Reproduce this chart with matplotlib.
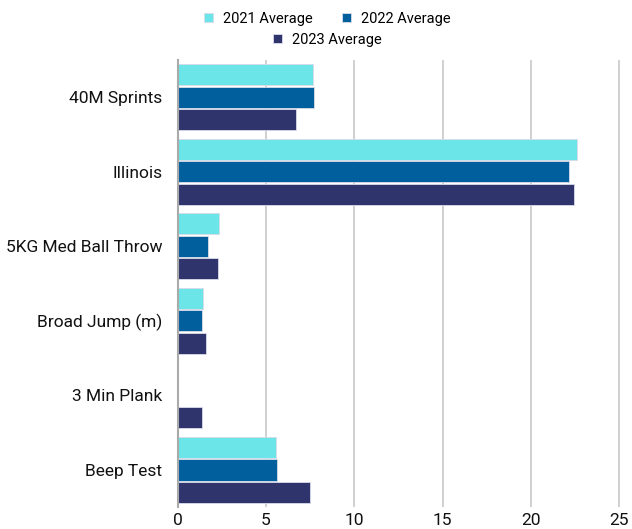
import numpy as np
import matplotlib
matplotlib.use("Agg")
import matplotlib.pyplot as plt

plt.rcParams['font.family'] = ['Roboto', 'DejaVu Sans']

categories = ['40M Sprints', 'Illinois', '5KG Med Ball Throw', 'Broad Jump (m)', '3 Min Plank', 'Beep Test']
avg_2021 = [7.67, 22.6, 2.32, 1.45, 0, 5.6]
avg_2022 = [7.73, 22.15, 1.70, 1.37, 0, 5.62]
avg_2023 = [6.71, 22.42, 2.26, 1.62, 1.37, 7.5]
series = ['2021 Average', '2022 Average', '2023 Average']
colors = ['#6BE5E8', '#015F9D', '#2F346C']

fig = plt.figure(figsize=(6.32, 5.29), dpi=100)
ax = fig.add_axes([0.281, 0.041, 0.70, 0.846])

y = np.arange(len(categories))
h = 0.3
bars = []
for i, (vals, name, col) in enumerate(zip([avg_2021, avg_2022, avg_2023], series, colors)):
    b = ax.barh(y + (i - 1) * h, vals, height=h * 0.94, color=col, label=name,
                edgecolor='#d8dcea', linewidth=0.6)
    bars.append(b)

ax.set_ylim(len(categories) - 0.5, -0.5)
ax.set_xlim(0, 25.05)
ax.set_xticks([0, 5, 10, 15, 20, 25])
ax.set_yticks(y)
ax.set_yticklabels(categories)
ax.tick_params(axis='both', length=0, labelsize=12.5, colors='#111111')
ax.tick_params(axis='y', pad=11)
ax.tick_params(axis='x', pad=4)
ax.grid(axis='x', color='#c8c8c8', linewidth=1.2)
ax.set_axisbelow(True)
for s in ['top', 'right', 'bottom']:
    ax.spines[s].set_visible(False)
ax.spines['left'].set_color('#aaaaaa')
ax.spines['left'].set_linewidth(1.5)

leg_kw = dict(frameon=False, fontsize=10.5, handlelength=0.6, handleheight=0.6,
              handletextpad=0.7, columnspacing=2.0, borderpad=0.0)
fig.legend(bars[:2], series[:2], loc='center', bbox_to_anchor=(0.518, 0.965), ncol=2, **leg_kw)
fig.legend(bars[2:], series[2:], loc='center', bbox_to_anchor=(0.518, 0.925), ncol=1, **leg_kw)

fig.savefig('out.png', dpi=100)
